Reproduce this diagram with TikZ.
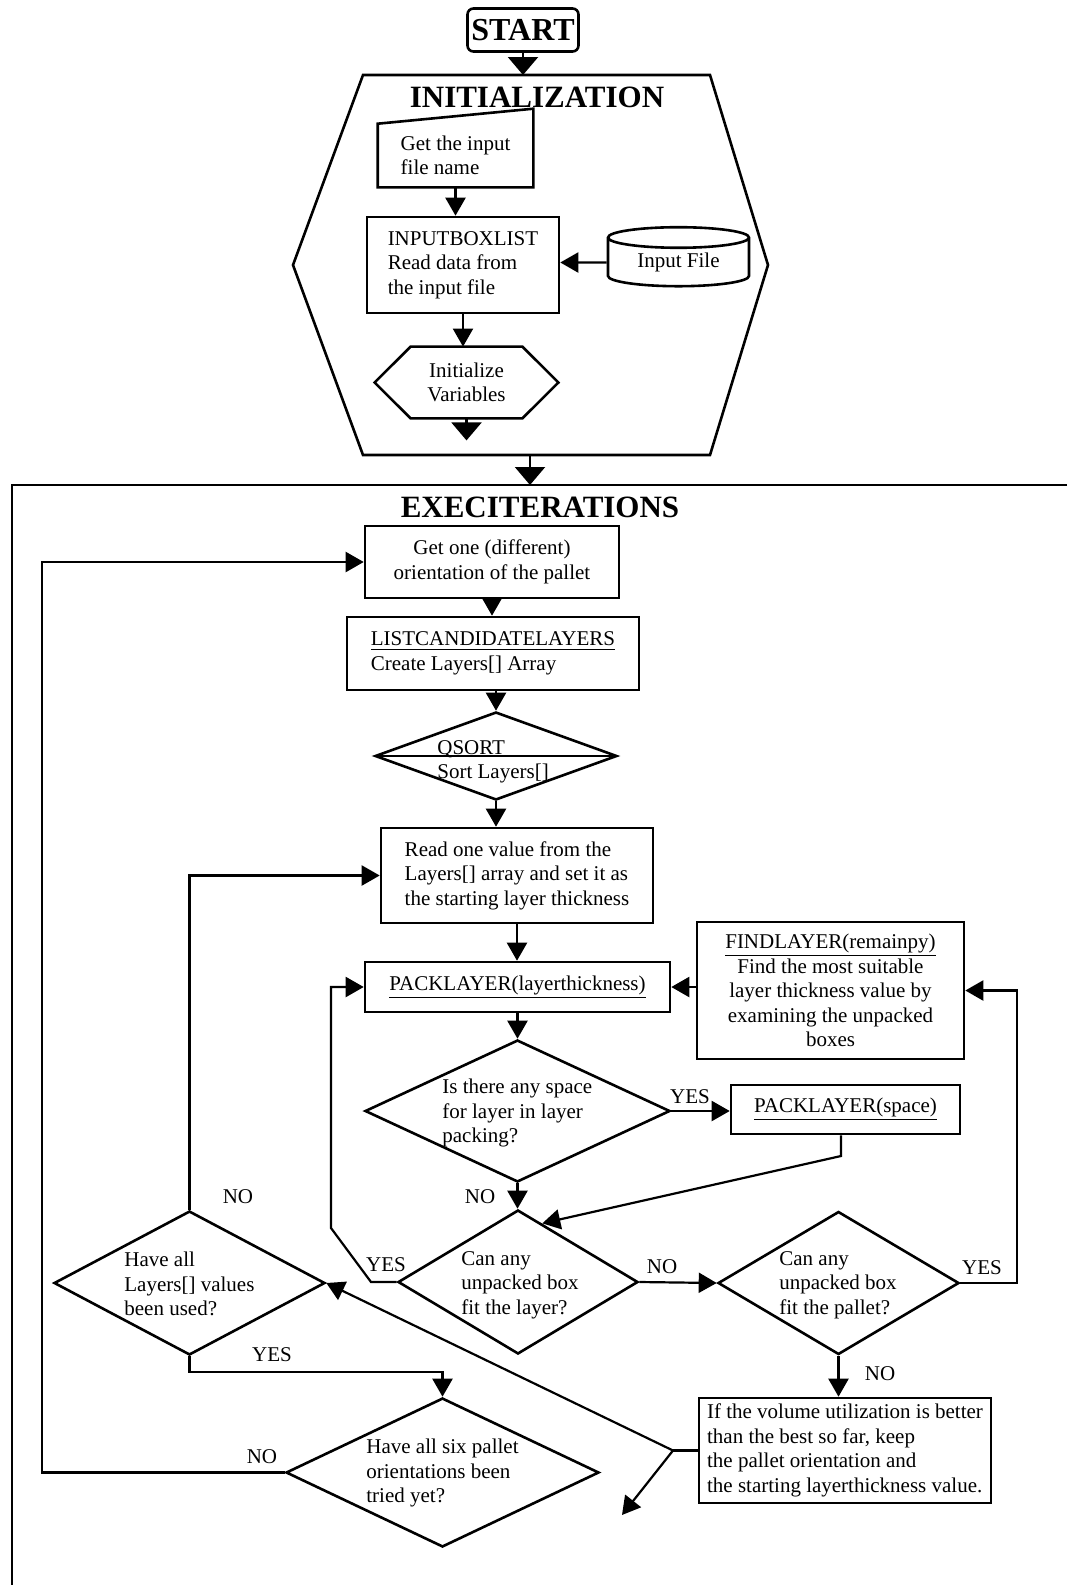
\documentclass[tikz,border=0pt]{standalone}
\usepackage{fontspec}
\setmainfont{Liberation Serif}
\usetikzlibrary{shapes.geometric,arrows.meta,calc}

\begin{document}
\begin{tikzpicture}[x=0.5pt, y=-0.5pt, font=\fontsize{10.5}{12.3}\selectfont,
  box/.style={draw, line width=1.3pt, inner sep=0pt, align=center},
  lbox/.style={box, align=left},
  dec/.style={draw, diamond, line width=1.3pt, inner sep=0pt},
  txt/.style={anchor=west, align=left, inner sep=0pt},
  lab/.style={inner sep=0pt},
  arr/.style={-{Triangle[length=9pt,width=10pt]}, line width=1.1pt},
  bigarr/.style={-{Triangle[length=9pt,width=15pt]}, line width=1.1pt},
  line/.style={line width=1.1pt}]
\useasboundingbox (0,0) rectangle (1067,1585);

\node[box, rounded corners=3pt, font=\fontsize{16}{18}\selectfont\bfseries, minimum width=55.5pt, minimum height=21.5pt] (start) at (523,30) {START};

\coordinate (h1) at (363,75);
\coordinate (h2) at (710,75);
\coordinate (h3) at (768,265);
\coordinate (h4) at (710,455);
\coordinate (h5) at (363,455);
\coordinate (h6) at (293,265);
\draw[line width=1.3pt] (h1) -- (h2) -- (h3) -- (h4) -- (h5) -- (h6) -- cycle;
\coordinate (hextop) at (start.south |- h1);
\draw[bigarr] (start) -- (hextop);
\node[font=\fontsize{15.5}{18}\selectfont\bfseries] (inittitle) at (537,97) {INITIALIZATION};

\node[lbox, draw=none, minimum width=76.5pt, minimum height=30.5pt] (getname) at (455.5,155.5) {Get the input\\file name};
\draw[line width=1.3pt] (getname.south west) -- (getname.south east) -- ([yshift=7.5pt]getname.north east) -- (getname.north west) -- cycle;

\node[lbox, minimum width=96pt, minimum height=48pt] (inbox) at (463,265) {INPUTBOXLIST\\Read data from\\the input file};
\draw[arr] (getname.south) -- (getname.south |- inbox.north);

\node[draw, cylinder, shape border rotate=90, aspect=0.25, line width=1.3pt, minimum width=70.5pt, minimum height=29.5pt, inner sep=0pt] (infile) at (678.5,262.5) {Input File};
\draw[arr] (infile) -- (inbox.east |- infile);

\node[draw=none, minimum width=91.5pt, minimum height=35.5pt, inner sep=0pt, align=center] (initvar) at (466.5,382.5) {Initialize\\Variables};
\draw[line width=1.3pt] (initvar.west) -- ([xshift=18pt]initvar.north west) -- ([xshift=-18pt]initvar.north east) -- (initvar.east) -- ([xshift=-18pt]initvar.south east) -- ([xshift=18pt]initvar.south west) -- cycle;
\draw[arr] (inbox.south) -- (inbox.south |- initvar.north);
\coordinate (initout) at ($(initvar.south)+(0,22)$);
\draw[bigarr] (initvar.south) -- (initout);

\coordinate (hexbot) at (530,455);
\coordinate (exectop) at (530,485);
\draw[bigarr] (hexbot) -- (exectop);
\draw[line width=1.3pt] (1067,485) -- (12,485) -- (12,1585);
\node[font=\fontsize{15.5}{18}\selectfont\bfseries] (exectitle) at (540,507) {EXECITERATIONS};

\node[box, minimum width=127pt, minimum height=36pt] (orient) at (492,562) {Get one (different)\\orientation of the pallet};
\node[lbox, minimum width=146pt, minimum height=36.5pt] (listcand) at (493,653.5) {\underline{LISTCANDIDATELAYERS}\\Create Layers[] Array};
\draw[arr] (orient.south) -- (orient.south |- listcand.north);

\node[dec, minimum width=121pt, minimum height=44pt] (qsort) at (496,756) {};
\draw[line width=1.3pt] (qsort.west) -- (qsort.east);
\node[txt, anchor=base west] (qsort-a) at (437,754) {QSORT};
\node[txt] (qsort-b) at (437,773) {Sort Layers[]};
\draw[arr] (qsort.north |- listcand.south) -- (qsort.north);

\node[lbox, minimum width=136pt, minimum height=47.5pt] (readval) at (517,875.5) {Read one value from the\\Layers[] array and set it as\\the starting layer thickness};
\draw[arr] (qsort.south) -- (qsort.south |- readval.north);

\node[box, minimum width=152.5pt, minimum height=25pt] (packlt) at (517.5,987) {\underline{PACKLAYER(layerthickness)}};
\draw[arr] (readval.south) -- (readval.south |- packlt.north);

\node[box, minimum width=133.5pt, minimum height=68.5pt] (findlayer) at (830.5,990.5) {\underline{FINDLAYER(remainpy)}\\Find the most suitable\\layer thickness value by\\examining the unpacked\\boxes};
\draw[arr] (findlayer.west |- packlt.east) -- (packlt.east);

\node[dec, minimum width=152.5pt, minimum height=71pt] (spaceq) at (517.5,1111) {};
\node[txt] (spaceq-t) at (442,1113) {Is there any space\\for layer in layer\\packing?};
\draw[arr] (packlt.south) -- (spaceq.north);

\node[box, minimum width=114.5pt, minimum height=24.5pt] (packsp) at (845.5,1109.5) {\underline{PACKLAYER(space)}};
\draw[arr] (spaceq.east) -- (spaceq.east -| packsp.west);
\node[lab] (yes1) at (690,1097) {YES};

\node[dec, minimum width=120pt, minimum height=72pt] (layerq) at (518,1282) {};
\node[txt] (layerq-t) at (461,1285) {Can any\\unpacked box\\fit the layer?};
\draw[arr] (spaceq.south) -- (spaceq.south |- layerq.north);
\node[lab] (no2) at (480,1197) {NO};

\coordinate (sp1) at (841,1156);
\coordinate (sp2) at ($(layerq.north)!0.2!(layerq.east)$);
\draw[arr] (sp1 |- packsp.south) -- (sp1) -- (sp2);

\coordinate (yk1) at (371,1282);
\coordinate (yk2) at (331,1228);
\draw[arr] (layerq.west) -- (yk1) -- (yk2) -- (yk2 |- packlt.west) -- (packlt.west);
\node[lab] (yes2) at (386,1265) {YES};

\node[dec, minimum width=120.5pt, minimum height=71.5pt] (palletq) at (838.5,1283) {};
\node[txt] (palletq-t) at (779,1285) {Can any\\unpacked box\\fit the pallet?};
\draw[arr] (layerq.east) -- (palletq.west);
\node[lab] (no3) at (662,1267) {NO};

\coordinate (pk) at (1017,1283);
\draw[arr] (palletq.east) -- (pk) -- (pk |- findlayer.east) -- (findlayer.east);
\node[lab] (yes3) at (982,1268) {YES};

\node[lbox, minimum width=146pt, minimum height=52.5pt] (result) at (845,1450.5) {If the volume utilization is better\\than the best so far, keep\\the pallet orientation and\\the starting layerthickness value.};
\draw[arr] (palletq.south) -- (palletq.south |- result.north);
\node[lab] (no4) at (880,1374) {NO};

\node[dec, minimum width=135.5pt, minimum height=72pt] (allused) at (189.5,1283) {};
\node[txt] (allused-t) at (124,1284) {Have all\\Layers[] values\\been used?};
\draw[arr] (allused.north) -- (allused.north |- readval.west) -- (readval.west);
\node[lab] (no1) at (238,1197) {NO};

\coordinate (jn) at (673,1450.5);
\coordinate (exitpt) at (622,1515);
\draw[line] (result.west) -- (jn);
\draw[arr] (jn) -- (allused.east);
\draw[arr] (jn) -- (exitpt);

\node[dec, minimum width=156.5pt, minimum height=74.5pt] (sixq) at (442.5,1472.5) {};
\node[txt] (sixq-t) at (366,1473) {Have all six pallet\\orientations been\\tried yet?};
\draw[arr] (allused.south) -- ++(0,16) -| (sixq.north);
\node[lab] (yes4) at (272,1355) {YES};

\coordinate (nk) at (42,1472.5);
\draw[arr] (sixq.west) -- (nk) -- (nk |- orient.west) -- (orient.west);
\node[lab] (no5) at (262,1457) {NO};
\end{tikzpicture}
\end{document}
